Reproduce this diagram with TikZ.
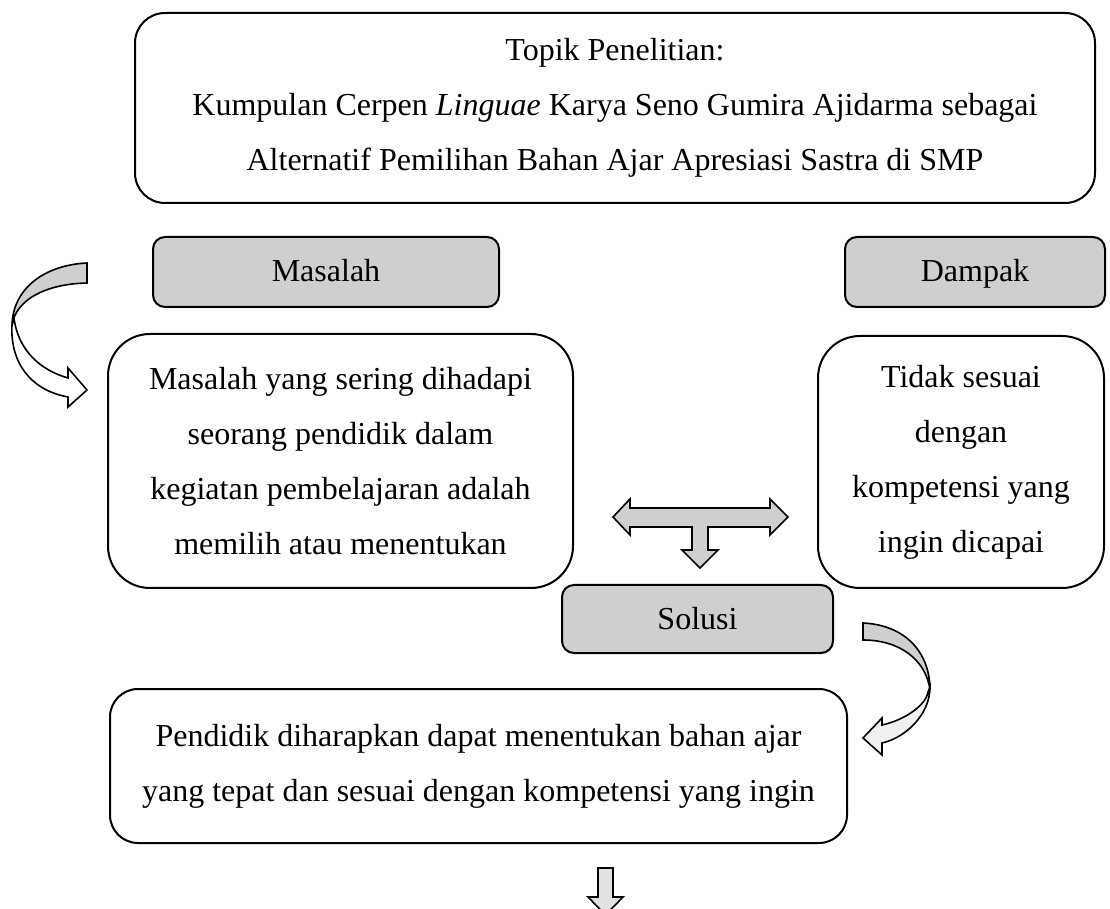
\documentclass[tikz,border=0pt]{standalone}
\usepackage{fontspec}
\setmainfont{Liberation Serif}
\usepackage{xcolor}
\definecolor{kotakabu}{RGB}{208,206,206}
\definecolor{panahmuda}{RGB}{240,240,240}

\begin{document}
\begin{tikzpicture}[x=0.5pt, y=-0.5pt,
        every node/.style={font=\fontsize{16}{27.5}\selectfont, align=center},
        kotak/.style={draw, line width=1pt, rounded corners=#1},
        judul/.style={draw, line width=1pt, fill=kotakabu, rounded corners=6pt,
            text height=11pt, text depth=1pt},
        panah/.style={draw, line width=0.8pt, line join=miter, fill=#1}]
        \useasboundingbox (0,0) rectangle (1110,909);
        % Topik
        \node [kotak=15pt, minimum width=480pt, minimum height=95pt] (topik) at (615,108)
            {Topik Penelitian:\\Kumpulan Cerpen \textit{Linguae} Karya Seno Gumira Ajidarma sebagai\\Alternatif Pemilihan Bahan Ajar Apresiasi Sastra di SMP};
        % Judul abu-abu
        \node [judul, minimum width=173pt, minimum height=35pt] (masalah) at (326,272) {Masalah};
        \node [judul, minimum width=130pt, minimum height=35pt] (dampak) at (975,272) {Dampak};
        \node [judul, minimum width=135.5pt, minimum height=34pt] (solusi) at (697.5,619) {Solusi};
        % Isi
        \node [kotak=21pt, minimum width=232.5pt, minimum height=127pt] (isiMasalah) at (340.5,461)
            {Masalah yang sering dihadapi\\seorang pendidik dalam\\kegiatan pembelajaran adalah\\memilih atau menentukan};
        \node [kotak=21pt, minimum width=143pt, minimum height=126pt] (isiDampak) at (961,462)
            {Tidak sesuai\\dengan\\kompetensi yang\\ingin dicapai};
        \node [kotak=14pt, minimum width=368.5pt, minimum height=77pt] (isiSolusi) at (478.5,766)
            {Pendidik diharapkan dapat menentukan bahan ajar\\yang tepat dan sesuai dengan kompetensi yang ingin};
        % Panah lengkung kiri
        \draw [panah=kotakabu] (87,263) .. controls (45,265) and (13,288) .. (12,325)
            .. controls (16,300) and (45,284) .. (87,283) -- cycle;
        \draw [panah=white] (14,318) .. controls (18,350) and (40,370) .. (68,378) -- (68,368) -- (87,390)
            -- (68,407) -- (68,397) .. controls (30,390) and (10,362) .. (12,325) -- cycle;
        % Panah T
        \draw [panah=kotakabu] (613,517) -- (630,499) -- (630,508) -- (770,508) -- (770,499) -- (788,517)
            -- (770,535) -- (770,527) -- (708,527) -- (708,550) -- (718,550) -- (700,568) -- (682,550)
            -- (692,550) -- (692,527) -- (630,527) -- (630,535) -- cycle;
        % Panah lengkung kanan
        \draw [panah=kotakabu] (863,623) .. controls (905,625) and (930,652) .. (930,690)
            .. controls (926,660) and (900,640) .. (863,640) -- cycle;
        \draw [panah=panahmuda] (930,687) .. controls (930,715) and (905,738) .. (882,743) -- (882,755)
            -- (863,738) -- (882,718) -- (882,725) .. controls (905,720) and (926,705) .. (928,692) -- cycle;
        % Panah bawah
        \draw [panah=panahmuda!60!kotakabu] (598,868) -- (613,868) -- (613,897) -- (623,897) -- (605.5,915)
            -- (588,897) -- (598,897) -- cycle;
    \end{tikzpicture}
\end{document}
